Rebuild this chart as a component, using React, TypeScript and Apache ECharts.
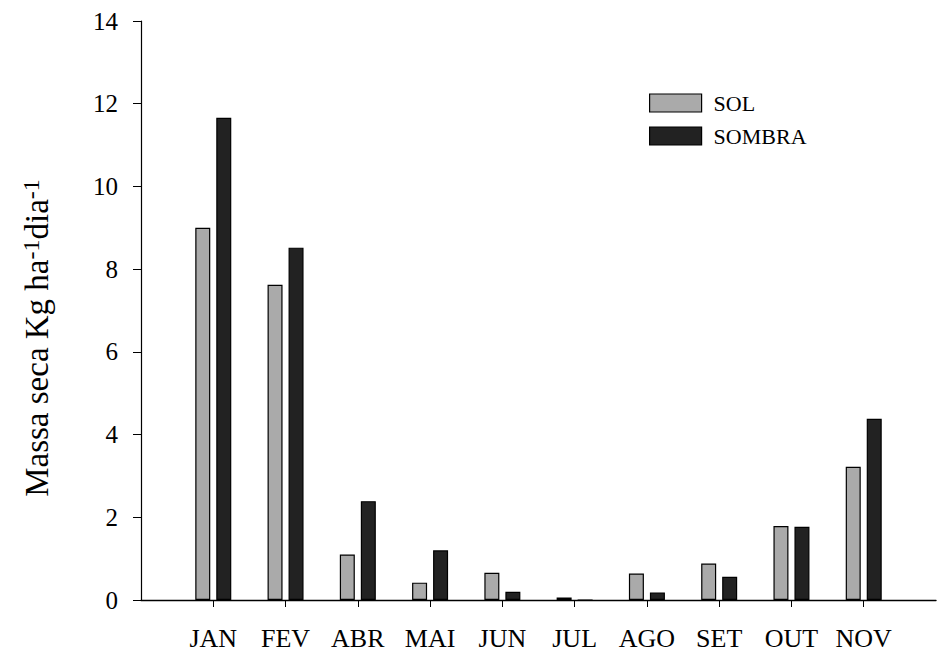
import React, { useEffect, useRef } from "react";
import * as echarts from "echarts";

const categories = ["", "JAN", "FEV", "ABR", "MAI", "JUN", "JUL", "AGO", "SET", "OUT", "NOV", ""];
const solValues = [null, 9.0, 7.62, 1.1, 0.42, 0.66, 0.06, 0.64, 0.88, 1.79, 3.22, null];
const sombraValues = [null, 11.66, 8.52, 2.39, 1.2, 0.2, 0, 0.18, 0.56, 1.77, 4.38, null];
const yTicks = { min: 0, max: 14, interval: 2 };

const FONT = "'Liberation Serif', 'Times New Roman', serif";

export default function App() {
  const ref = useRef<HTMLDivElement>(null);
  useEffect(() => {
    if (!ref.current) return;
    const chart = echarts.init(ref.current, undefined, { renderer: "svg" });
    chart.setOption({
      animation: false,
      backgroundColor: "#ffffff",
      textStyle: { fontFamily: FONT },
      grid: { left: 141, top: 21, bottom: 52, width: 806, containLabel: false },
      legend: {
        orient: "vertical",
        left: 649,
        top: 92,
        padding: 0,
        itemWidth: 52,
        itemHeight: 18,
        itemGap: 11,
        icon: "rect",
        itemStyle: { borderColor: "#000", borderWidth: 1.2 },
        textStyle: { fontFamily: FONT, fontSize: 22, color: "#000", padding: [0, 0, 0, 7] },
        data: ["SOL", "SOMBRA"],
      },
      xAxis: {
        type: "category",
        data: categories,
        boundaryGap: false,
        axisLine: { lineStyle: { color: "#000", width: 1.4 } },
        axisTick: {
          length: 7,
          lineStyle: { color: "#000", width: 1 },
          interval: (i: number, v: string) => v !== "",
        },
        axisLabel: { color: "#000", fontFamily: FONT, fontSize: 26, margin: 25, interval: 0 },
        splitLine: { show: false },
      },
      yAxis: {
        type: "value",
        min: yTicks.min,
        max: yTicks.max,
        interval: yTicks.interval,
        axisLine: { show: true, lineStyle: { color: "#000", width: 1.2 } },
        axisTick: { show: true, length: 8, lineStyle: { color: "#000", width: 1 } },
        axisLabel: { color: "#000", fontFamily: FONT, fontSize: 25, margin: 23 },
        splitLine: { show: false },
      },
      graphic: [
        {
          type: "text",
          x: 37,
          y: 338,
          rotation: Math.PI / 2,
          style: {
            text: "{a|Massa seca Kg ha}{s|-1}{a|dia}{s|-1}",
            align: "center",
            verticalAlign: "middle",
            fill: "#000",
            rich: {
              a: { fontFamily: FONT, fontSize: 33, lineHeight: 36, fill: "#000" },
              s: { fontFamily: FONT, fontSize: 24, lineHeight: 22, verticalAlign: "top", fill: "#000" },
            },
          },
        },
      ],
      series: [
        {
          name: "SOL",
          type: "bar",
          data: solValues,
          barWidth: 15,
          barGap: "40%",
          itemStyle: { color: "#aaaaaa", borderColor: "#000", borderWidth: 1.2 },
        },
        {
          name: "SOMBRA",
          type: "bar",
          data: sombraValues,
          barWidth: 15,
          barGap: "40%",
          itemStyle: { color: "#222222", borderColor: "#000", borderWidth: 1.2 },
        },
      ],
    });
    return () => chart.dispose();
  }, []);
  return (
    <div
      ref={ref}
      style={{ position: "fixed", left: 0, top: 0, width: 939, height: 652, background: "#fff" }}
    />
  );
}
